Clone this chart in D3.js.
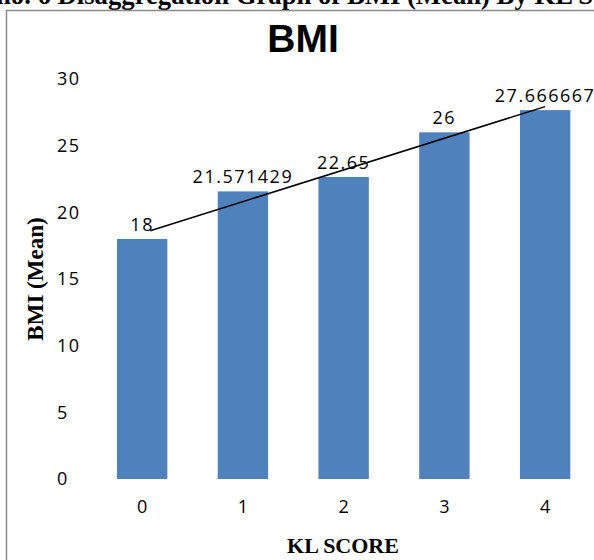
<!DOCTYPE html>
<html>
<head>
<meta charset="utf-8">
<script src="https://cdn.jsdelivr.net/npm/d3@7"></script>
<style>
  html, body { margin: 0; padding: 0; background: #fff; }
  svg { display: block; }
</style>
</head>
<body>
<svg id="chart" width="594" height="560"></svg>
<script>
// KL score categories and mean BMI per category
const categories = ["0", "1", "2", "3", "4"];
const bmiMean = [18, 21.571429, 22.65, 26, 27.666667];
const valueLabels = ["18", "21.571429", "22.65", "26", "27.666667"];
const yTicks = [0, 5, 10, 15, 20, 25, 30];

const svg = d3.select("#chart");
const W = 594, H = 560;

const x = d3.scaleBand()
  .domain(categories)
  .range([91.8, 595.5])
  .paddingInner(0.5)
  .paddingOuter(0.25);

const y = d3.scaleLinear().domain([0, 30]).range([479, 79]);

// caption line above the chart frame
svg.append("text")
  .attr("x", -4).attr("y", 4)
  .attr("font-family", "'Liberation Serif', 'Times New Roman', serif")
  .attr("font-weight", "bold")
  .attr("font-size", 26.7)
  .attr("fill", "#000")
  .text("no. 6 Disaggregation Graph of BMI (Mean) By KL SCORE");

// chart frame
svg.append("rect")
  .attr("x", 6.5).attr("y", 10.5)
  .attr("width", W + 20).attr("height", H + 20)
  .attr("fill", "none")
  .attr("stroke", "#8a8a8a")
  .attr("stroke-width", 1.5);

// chart title
svg.append("text")
  .attr("x", 303).attr("y", 52)
  .attr("text-anchor", "middle")
  .attr("font-family", "'Liberation Sans', Arial, sans-serif")
  .attr("font-weight", "bold")
  .attr("font-size", 39)
  .attr("fill", "#000")
  .text("BMI");

const sansFont = "'Open Sans', sans-serif";

// y tick labels (no axis line)
svg.append("g").selectAll("text")
  .data(yTicks)
  .join("text")
  .attr("x", 57)
  .attr("y", d => y(d))
  .attr("dy", "0.36em")
  .attr("font-family", sansFont)
  .attr("font-size", 18)
  .attr("letter-spacing", 1.5)
  .attr("fill", "#000")
  .text(d => d);

// bars
svg.append("g").selectAll("rect")
  .data(bmiMean)
  .join("rect")
  .attr("x", (d, i) => x(categories[i]))
  .attr("y", d => y(d))
  .attr("width", x.bandwidth())
  .attr("height", d => y(0) - y(d))
  .attr("fill", "#4f81bd");

// category labels
svg.append("g").selectAll("text")
  .data(categories)
  .join("text")
  .attr("x", d => x(d) + x.bandwidth() / 2)
  .attr("y", 507)
  .attr("dy", "0.36em")
  .attr("text-anchor", "middle")
  .attr("font-family", sansFont)
  .attr("font-size", 18)
  .attr("fill", "#000")
  .text(d => d);

// value labels above bars
svg.append("g").selectAll("text")
  .data(bmiMean)
  .join("text")
  .attr("x", (d, i) => x(categories[i]) + x.bandwidth() / 2)
  .attr("y", d => y(d) - 8)
  .attr("text-anchor", "middle")
  .attr("font-family", sansFont)
  .attr("font-size", 18)
  .attr("letter-spacing", 1.5)
  .attr("fill", "#000")
  .text((d, i) => valueLabels[i]);

// linear trendline (least squares over category index)
const n = bmiMean.length;
const idx = d3.range(n);
const mx = d3.mean(idx), my = d3.mean(bmiMean);
const slope = d3.sum(idx, i => (i - mx) * (bmiMean[i] - my)) / d3.sum(idx, i => (i - mx) ** 2);
const intercept = my - slope * mx;
const cx = i => x(categories[0]) + x.bandwidth() / 2 + i * x.step();
svg.append("line")
  .attr("x1", cx(0.08)).attr("y1", y(intercept + slope * 0.08))
  .attr("x2", cx(n - 1)).attr("y2", y(intercept + slope * (n - 1)))
  .attr("stroke", "#000")
  .attr("stroke-width", 1.5);

// axis titles
svg.append("text")
  .attr("x", 343).attr("y", 553)
  .attr("text-anchor", "middle")
  .attr("font-family", "'Liberation Serif', 'Times New Roman', serif")
  .attr("font-weight", "bold")
  .attr("font-size", 22)
  .attr("fill", "#000")
  .text("KL SCORE");

svg.append("text")
  .attr("transform", "translate(43,279) rotate(-90)")
  .attr("text-anchor", "middle")
  .attr("font-family", "'Liberation Serif', 'Times New Roman', serif")
  .attr("font-weight", "bold")
  .attr("font-size", 23)
  .attr("fill", "#000")
  .text("BMI (Mean)");
</script>
</body>
</html>
